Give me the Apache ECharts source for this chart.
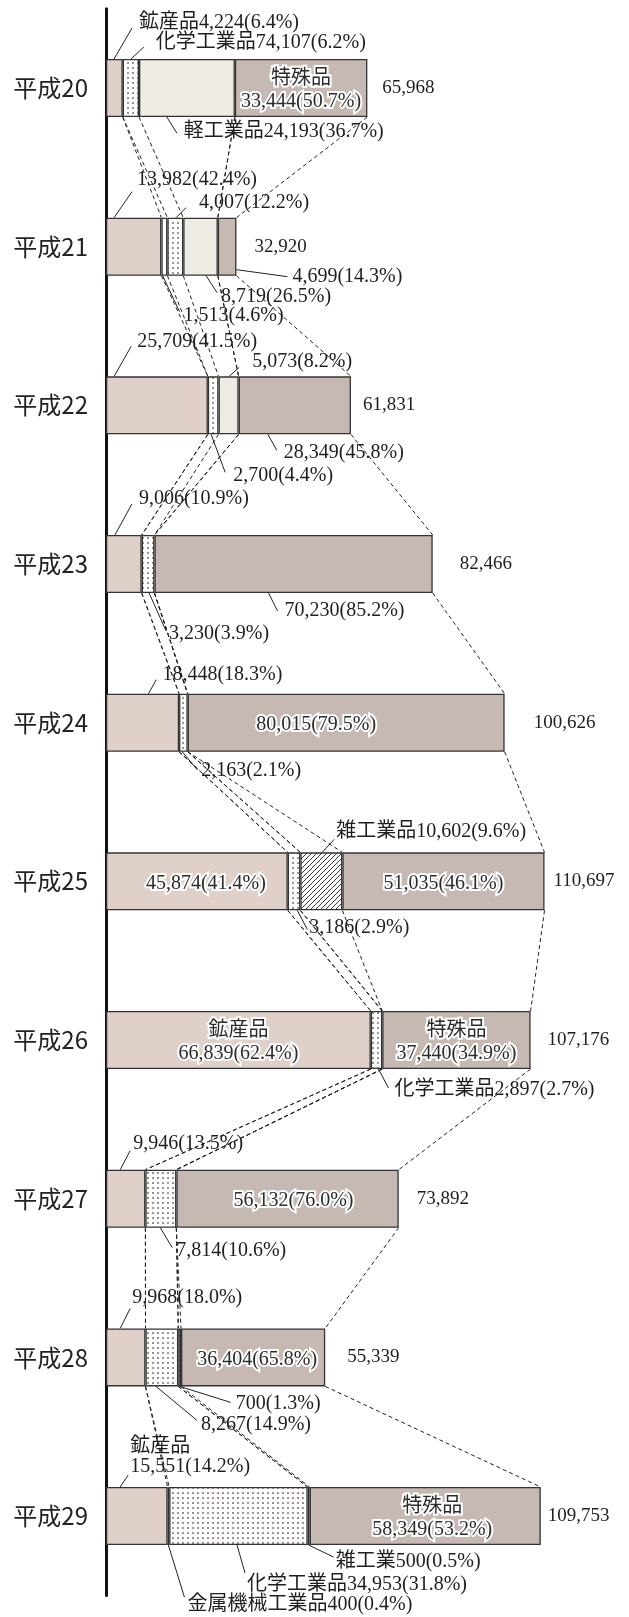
<!DOCTYPE html>
<html><head><meta charset="utf-8">
<script src="https://cdn.jsdelivr.net/npm/echarts@6/dist/echarts.min.js"></script>
<style>html,body{margin:0;padding:0;background:#fff}#c{width:629px;height:1617px}</style>
</head><body><div id="c"></div><script>
// ---- data ----
const categories = ['平成20','平成21','平成22','平成23','平成24','平成25','平成26','平成27','平成28','平成29'];
const seriesNames = ['鉱産品','金属機械工業品','化学工業品','軽工業品','雑工業品','特殊品'];
const mineral  = [4224, 13982, 25709, 9006, 18448, 45874, 66839, 9946, 9968, 15551];
const metal    = [0, 1513, 0, 0, 0, 0, 0, 0, 0, 400];
const chemical = [4107, 4007, 2700, 3230, 2163, 3186, 2897, 7814, 8267, 34953];
const light    = [24193, 8719, 5073, 0, 0, 0, 0, 0, 0, 0];
const misc     = [0, 0, 0, 0, 0, 10602, 0, 0, 700, 500];
const special  = [33444, 4699, 28349, 70230, 80015, 51035, 37440, 56132, 36404, 58349];
const totals   = [65968, 32920, 61831, 82466, 100626, 110697, 107176, 73892, 55339, 109753];
const values = [mineral, metal, chemical, light, misc, special];

// ---- layout / style ----
const BAR_W = 58;
const FONT = '20px "Liberation Serif", "Noto Sans CJK JP", serif';
const TOTAL_FONT = '19px "Liberation Serif", "Noto Sans CJK JP", serif';
const totalGap = [15, 18, 12, 27, 29, 9, 17, 18, 22, 7];

// annotations: c=category, s=segment, f=fraction along segment, e=edge (t/b),
// l=leader end offset, t=text offset (from anchor on bar edge)
const annotations = [
  {c:0,s:0,f:0.48,e:'t',l:[18,-31],t:[25,-36],text:'鉱産品4,224(6.4%)'},
  {c:0,s:2,f:0.5,e:'t',l:[13,-12],t:[25,-16],text:'化学工業品74,107(6.2%)'},
  {c:0,s:3,f:0.29,e:'b',l:[10,16],t:[17,15],text:'軽工業品24,193(36.7%)'},
  {c:0,s:5,inside:true,dx:0,text:'特殊品\n33,444(50.7%)'},
  {c:1,s:0,f:0.145,e:'t',l:[18,-26],t:[23,-38],text:'13,982(42.4%)'},
  {c:1,s:2,f:0.55,e:'t',l:[10,-10],t:[23,-15],text:'4,007(12.2%)'},
  {c:1,s:5,f:1,e:'b',sy:-6,l:[51,1],t:[56,1],text:'4,699(14.3%)'},
  {c:1,s:3,f:0.66,e:'b',l:[11,17],t:[15,21],text:'8,719(26.5%)'},
  {c:1,s:1,f:0.2,e:'b',l:[17,36],t:[21,40],text:'1,513(4.6%)'},
  {c:2,s:0,f:0.08,e:'t',l:[17,-30],t:[23,-35],text:'25,709(41.5%)'},
  {c:2,s:3,f:0.53,e:'t',l:[10,-9],t:[23,-15],text:'5,073(8.2%)'},
  {c:2,s:5,f:0.26,e:'b',l:[9,16],t:[16,18],text:'28,349(45.8%)'},
  {c:2,s:2,f:0.31,e:'b',l:[14,38],t:[22,41],text:'2,700(4.4%)'},
  {c:3,s:0,f:0.25,e:'t',l:[17,-31],t:[24,-36],text:'9,006(10.9%)'},
  {c:3,s:5,f:0.41,e:'b',l:[9,18],t:[16,18],text:'70,230(85.2%)'},
  {c:3,s:2,f:0.58,e:'b',l:[17,38],t:[20,41],text:'3,230(3.9%)'},
  {c:4,s:0,f:0.58,e:'t',l:[8,-14],t:[14,-19],text:'18,448(18.3%)'},
  {c:4,s:5,inside:true,dx:-30,text:'80,015(79.5%)'},
  {c:4,s:2,f:0.36,e:'b',l:[15,18],t:[19,19],text:'2,163(2.1%)'},
  {c:5,s:4,f:0.52,e:'t',l:[12,-13],t:[14,-21],text:'雑工業品10,602(9.6%)'},
  {c:5,s:0,inside:true,dx:9,text:'45,874(41.4%)'},
  {c:5,s:5,inside:true,dx:0,text:'51,035(46.1%)'},
  {c:5,s:2,f:0.76,e:'b',l:[10,19],t:[12,17],text:'3,186(2.9%)'},
  {c:6,s:0,inside:true,dx:0,text:'鉱産品\n66,839(62.4%)'},
  {c:6,s:5,inside:true,dx:0,text:'特殊品\n37,440(34.9%)'},
  {c:6,s:2,f:0.67,e:'b',l:[10,19],t:[16,21],text:'化学工業品2,897(2.7%)'},
  {c:7,s:0,f:0.36,e:'t',l:[10,-19],t:[13,-26],text:'9,946(13.5%)'},
  {c:7,s:5,inside:true,dx:6,text:'56,132(76.0%)'},
  {c:7,s:2,f:0.48,e:'b',l:[12,20],t:[16,23],text:'7,814(10.6%)'},
  {c:8,s:0,f:0.36,e:'t',l:[10,-20],t:[12,-31],text:'9,968(18.0%)'},
  {c:8,s:5,inside:true,dx:4,text:'36,404(65.8%)'},
  {c:8,s:4,f:0.5,e:'b',l:[51,16],t:[56,17],text:'700(1.3%)'},
  {c:8,s:2,f:0.32,e:'b',l:[41,34],t:[45,38],text:'8,267(14.9%)'},
  {c:9,s:0,f:0.23,e:'t',l:[8,-12],t:[10,-30],text:'鉱産品\n15,551(14.2%)'},
  {c:9,s:5,inside:true,dx:7,text:'特殊品\n58,349(53.2%)'},
  {c:9,s:4,f:0.5,e:'b',l:[25,12],t:[27,17],text:'雑工業500(0.5%)'},
  {c:9,s:2,f:0.49,e:'b',l:[8,28],t:[10,40],text:'化学工業品34,953(31.8%)'},
  {c:9,s:1,f:0.5,e:'b',l:[16,52],t:[19,60],text:'金属機械工業品400(0.4%)'}
];

function cumStart(c, s){ let v=0; for(let k=0;k<s;k++) v+=values[k][c]; return v; }

function dotPattern(){
  const cv=document.createElement('canvas'); cv.width=5; cv.height=5;
  const g=cv.getContext('2d'); g.fillStyle='#fff'; g.fillRect(0,0,5,5);
  g.fillStyle='#a0938e'; g.fillRect(2,2,2,2); return cv;
}
function hatchPattern(){
  const n=5, cv=document.createElement('canvas'); cv.width=n; cv.height=n;
  const g=cv.getContext('2d'); g.fillStyle='#fff'; g.fillRect(0,0,n,n);
  g.strokeStyle='#222'; g.lineWidth=0.9;
  g.beginPath(); g.moveTo(-1,n+1); g.lineTo(n+1,-1);
  g.moveTo(-1,1); g.lineTo(1,-1); g.moveTo(n-1,n+1); g.lineTo(n+1,n-1); g.stroke();
  return cv;
}
const fills = ['#dfd1ca','#ffffff',{image:dotPattern(),repeat:'repeat'},'#eeeae4',{image:hatchPattern(),repeat:'repeat'},'#c6b8b3'];

const barSeries = seriesNames.map((name,k)=>({
  name, type:'bar', stack:'total', barWidth:BAR_W, silent:true,
  itemStyle:{color:fills[k], borderColor:'#333', borderWidth:1.3},
  data: values[k].map(v=> v ? v : '-')
}));

// connector lines between consecutive bars at every cumulative boundary
const connData = [];
for(let i=0;i<categories.length-1;i++){
  for(let k=0;k<values.length;k++){
    connData.push([cumStart(i,k+1), i, cumStart(i+1,k+1), i+1]);
  }
}

const annData = annotations.map(a=>{
  const st = cumStart(a.c,a.s), v = values[a.s][a.c];
  return [st + (a.inside ? 0.5 : a.f) * v, a.c];
});

const chart = echarts.init(document.getElementById('c'), null, {renderer:'canvas'});
chart.setOption({
  animation:false,
  backgroundColor:'#fff',
  grid:{left:106, right:8, top:8.67, bottom:21.6},
  xAxis:{type:'value', min:0, max:130000, show:false},
  yAxis:{type:'category', inverse:true, data:categories,
    axisLine:{show:true, lineStyle:{color:'#111', width:3}},
    axisTick:{show:false}, splitLine:{show:false},
    axisLabel:{fontFamily:'"Noto Sans CJK JP", sans-serif', fontSize:24, color:'#222', margin:18}},
  series: barSeries.concat([
    {type:'custom', silent:true, z:3, encode:{x:[0,2], y:[1,3]}, data:connData,
     renderItem(params, api){
       const p1 = api.coord([api.value(0), api.value(1)]);
       const p2 = api.coord([api.value(2), api.value(3)]);
       return {type:'line', shape:{x1:p1[0], y1:p1[1]+BAR_W/2, x2:p2[0], y2:p2[1]-BAR_W/2},
               style:{stroke:'#222', lineWidth:1, lineDash:[4,3]}};
     }},
    {type:'custom', silent:true, z:5, encode:{x:0, y:1}, data:annData,
     renderItem(params, api){
       const a = annotations[params.dataIndex];
       const p = api.coord([api.value(0), api.value(1)]);
       if(a.inside){
         return {type:'text', x:p[0]+(a.dx||0), y:p[1]+2,
           style:{text:a.text, fill:'#2b2b2b', stroke:'#fff', lineWidth:4, font:FONT,
                  align:'center', verticalAlign:'middle', lineHeight:23}};
       }
       const y0 = p[1] + (a.e==='t' ? -BAR_W/2 : BAR_W/2);
       return {type:'group', children:[
         {type:'line', shape:{x1:p[0], y1:y0+(a.sy||0), x2:p[0]+a.l[0], y2:y0+a.l[1]},
          style:{stroke:'#222', lineWidth:1}},
         {type:'text', x:p[0]+a.t[0], y:y0+a.t[1],
          style:{text:a.text, fill:'#1e1e1e', font:FONT, align:'left', verticalAlign:'middle', lineHeight:20}}
       ]};
     }},
    {type:'custom', silent:true, z:5, encode:{x:0, y:1}, data:totals.map((t,i)=>[t,i]),
     renderItem(params, api){
       const p = api.coord([api.value(0), api.value(1)]);
       return {type:'text', x:p[0]+totalGap[params.dataIndex], y:p[1],
         style:{text:totals[params.dataIndex].toLocaleString('en-US'), fill:'#1e1e1e', font:TOTAL_FONT,
                align:'left', verticalAlign:'middle'}};
     }}
  ])
});
</script></body></html>
